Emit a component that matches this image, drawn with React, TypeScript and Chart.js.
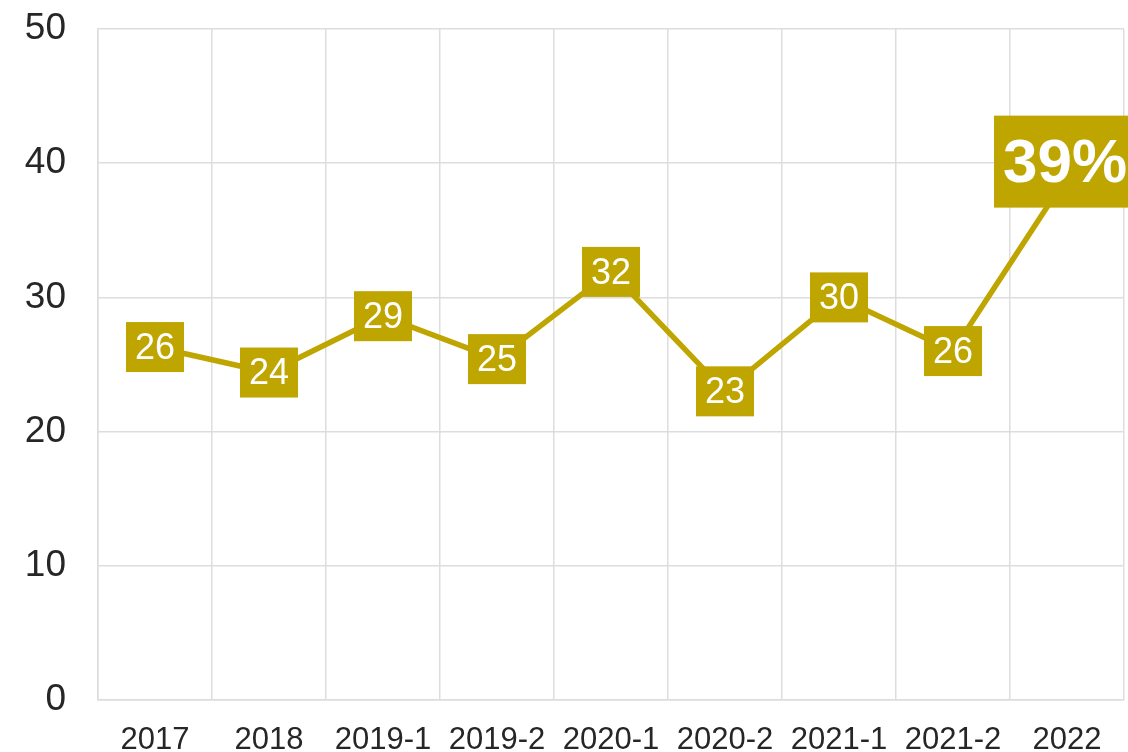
import React, { useEffect, useRef } from "react";
import { Chart, registerables } from "chart.js";

Chart.register(...registerables);

const categories = ["2017", "2018", "2019-1", "2019-2", "2020-1", "2020-2", "2021-1", "2021-2", "2022"];
const values = [26.3, 24.4, 28.6, 25.4, 31.9, 23, 30, 26, 39];
const pointLabels = ["26", "24", "29", "25", "32", "23", "30", "26", "39%"];
const yTicks = [0, 10, 20, 30, 40, 50];

const GOLD = "#BFA500";
const FONT = "'Liberation Sans', Arial, sans-serif";

const labelPlugin = {
  id: "boxLabels",
  afterDatasetsDraw(chart: any) {
    const ctx = chart.ctx;
    const meta = chart.getDatasetMeta(0);
    ctx.save();
    meta.data.forEach((pt: any, i: number) => {
      const last = i === meta.data.length - 1;
      const text = pointLabels[i];
      if (last) {
        ctx.font = `bold 62px ${FONT}`;
        const w = 146;
        const h = 92;
        const cy = pt.y - 15;
        ctx.fillStyle = GOLD;
        ctx.fillRect(pt.x - w / 2, cy - h / 2, w, h);
        ctx.fillStyle = "#ffffff";
        ctx.textAlign = "center";
        ctx.textBaseline = "middle";
        ctx.fillText(text, pt.x - 2, cy + 3);
      } else {
        ctx.font = `36px ${FONT}`;
        const tw = ctx.measureText(text).width;
        const w = tw + 18;
        const h = 50;
        ctx.fillStyle = GOLD;
        ctx.fillRect(pt.x - w / 2, pt.y - h / 2, w, h);
        ctx.fillStyle = "#ffffff";
        ctx.textAlign = "center";
        ctx.textBaseline = "middle";
        ctx.fillText(text, pt.x, pt.y + 2);
      }
    });
    ctx.restore();
  },
};

export default function App() {
  const ref = useRef<HTMLCanvasElement | null>(null);
  useEffect(() => {
    document.body.style.margin = "0";
    const chart = new Chart(ref.current as HTMLCanvasElement, {
      type: "line",
      data: {
        labels: categories,
        datasets: [
          {
            data: values,
            borderColor: GOLD,
            borderWidth: 5.5,
            pointRadius: 0,
            tension: 0,
            fill: false,
          },
        ],
      },
      options: {
        animation: false,
        responsive: false,
        layout: { padding: { top: 29, right: 4, left: 0, bottom: 0 } },
        plugins: { legend: { display: false }, tooltip: { enabled: false } },
        scales: {
          x: {
            offset: true,
            grid: { offset: true, color: "#dddddd", lineWidth: 1.5, drawTicks: false },
            border: { color: "#dddddd", width: 1.5 },
            ticks: {
              color: "#262626",
              font: { family: FONT, size: 31 },
              padding: 22,
              maxRotation: 0,
              autoSkip: false,
            },
            afterFit: (s: any) => {
              s.height = 52;
              s.paddingLeft = 0;
              s.paddingRight = 0;
            },
          },
          y: {
            min: 0,
            max: 50,
            afterBuildTicks: (s: any) => {
              s.ticks = yTicks.map((v) => ({ value: v }));
            },
            grid: { color: "#dddddd", lineWidth: 1.5, drawTicks: false },
            border: { color: "#dddddd", width: 1.5 },
            ticks: {
              color: "#262626",
              font: { family: FONT, size: 37 },
              padding: 32,
            },
            afterFit: (s: any) => {
              s.width = 98;
              s.paddingTop = 0;
              s.paddingBottom = 0;
            },
          },
        },
      },
      plugins: [labelPlugin],
    });
    return () => chart.destroy();
  }, []);
  return (
    <div style={{ width: 1128, height: 752 }}>
      <canvas ref={ref} width={1128} height={752} style={{ display: "block" }} />
    </div>
  );
}
